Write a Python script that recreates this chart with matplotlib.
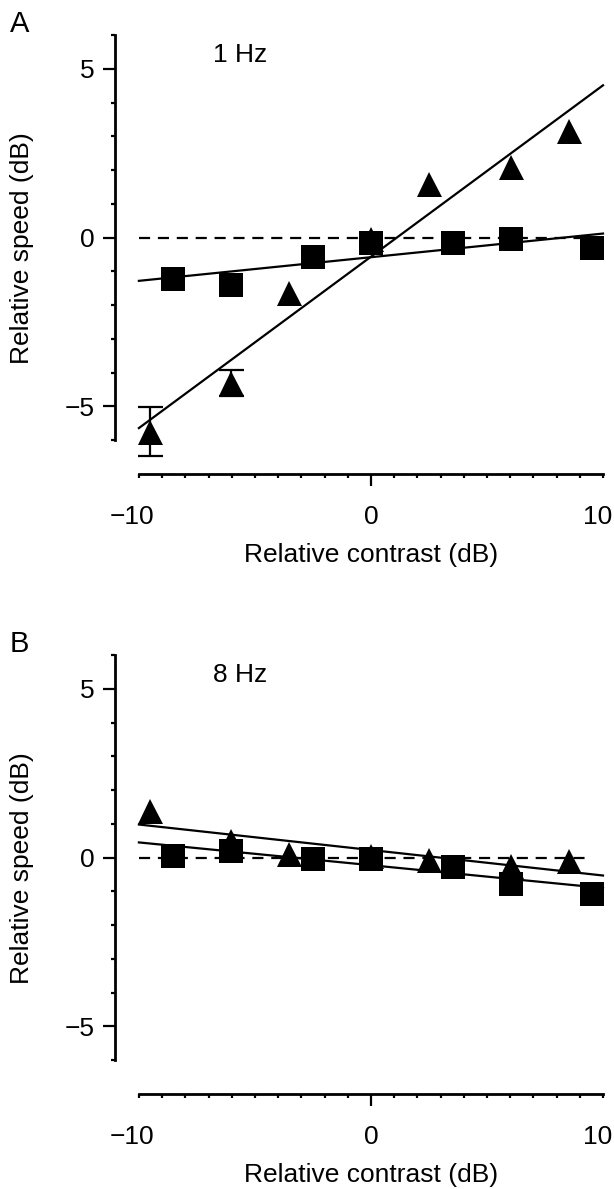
import numpy as np
import matplotlib
matplotlib.use('Agg')
import matplotlib.pyplot as plt
import matplotlib.transforms as mtrans
from matplotlib.ticker import FixedLocator

plt.rcParams['font.family'] = ['Liberation Sans', 'DejaVu Sans']
plt.rcParams['font.size'] = 19

# relative contrast (dB) for each stimulus set
x_tri = [-9.54, -6.02, -3.52, 0.0, 2.50, 6.02, 8.52]
x_sq = [-8.52, -6.02, -2.50, 0.0, 3.52, 6.02, 9.54]

# panel A, 1 Hz
a_tri = [-5.75, -4.30, -1.63, -0.05, 1.60, 2.08, 3.17]
a_tri_err = [0.72, 0.38, 0, 0, 0, 0, 0]
a_sq = [-1.22, -1.39, -0.56, -0.15, -0.15, -0.03, -0.30]
a_fit_tri = [-5.64, 4.51]   # fit line values at x = -10 and 10
a_fit_sq = [-1.28, 0.12]

# panel B, 8 Hz
b_tri = [1.39, 0.50, 0.11, 0.05, -0.06, -0.24, -0.09]
b_sq = [0.06, 0.21, -0.04, -0.05, -0.27, -0.78, -1.07]
b_fit_tri = [0.98, -0.53]
b_fit_sq = [0.45, -0.90]

fit_x = [-10, 10]

W, H = 614, 1189
fig = plt.figure(figsize=(W / 100, H / 100), dpi=100)


def make_panel(top_px, letter, freq, tri, tri_err, sq, fit_tri, fit_sq):
    left_px, right_px, bot_px = 115, 603, top_px + 439
    ax = fig.add_axes([left_px / W, (H - bot_px) / H,
                       (right_px - left_px) / W, (bot_px - top_px) / H])
    ax.set_xlim(-11.03, 10)
    ax.set_ylim(-7, 6)

    ax.plot([-10, 9.5], [0, 0], color='black', lw=1.6, ls=(0, (5, 3.5)))
    ax.plot(fit_x, fit_tri, color='black', lw=1.6, clip_on=False)
    ax.plot(fit_x, fit_sq, color='black', lw=1.6, clip_on=False)

    if tri_err is not None:
        idx = [i for i, e in enumerate(tri_err) if e > 0]
        ax.errorbar([x_tri[i] for i in idx], [tri[i] for i in idx],
                    yerr=[tri_err[i] for i in idx], fmt='none', ecolor='black',
                    elinewidth=1.6, capsize=9, capthick=1.6, zorder=3)
    ax.plot(x_tri, tri, linestyle='none', marker='^', ms=18, color='black',
            markeredgewidth=0, clip_on=False, zorder=4)
    ax.plot(x_sq, sq, linestyle='none', marker='s', ms=17, color='black',
            markeredgewidth=0, clip_on=False, zorder=5)

    for s in ['top', 'right']:
        ax.spines[s].set_visible(False)
    ax.spines['left'].set_bounds(-6, 6)
    ax.spines['bottom'].set_bounds(-10, 10)
    ax.spines['left'].set_linewidth(2)
    ax.spines['bottom'].set_linewidth(2)

    ax.set_yticks([-5, 0, 5])
    ax.set_yticklabels(['\u22125', '0', '5'])
    ax.yaxis.set_minor_locator(FixedLocator(range(-6, 7)))
    ax.set_xticks([-10, 0, 10])
    ax.set_xticklabels(['\u221210', '0', '10'])
    ax.xaxis.set_minor_locator(FixedLocator(range(-10, 11)))
    ax.tick_params(axis='y', which='major', length=8.5, width=1.6, pad=6)
    ax.tick_params(axis='y', which='minor', length=3, width=1.6)
    ax.tick_params(axis='x', which='major', length=3, width=1.6, pad=19)
    ax.tick_params(axis='x', which='minor', length=3, width=1.6)
    ax.xaxis.get_major_ticks()[1].tick1line.set_markersize(8.5)

    # end labels sit a little left of their ticks in the original
    shifts = [-7, 0, -5]
    for lab, dx in zip(ax.get_xticklabels(), shifts):
        lab.set_transform(lab.get_transform() +
                          mtrans.ScaledTranslation(dx / 100, 0, fig.dpi_scale_trans))

    ax.set_xlabel('Relative contrast (dB)')
    ax.xaxis.label.set_va('center')
    ax.xaxis.set_label_coords(0.525, -81 / 439)
    ax.set_ylabel('Relative speed (dB)')
    ax.yaxis.label.set_va('center')
    ax.yaxis.set_label_coords(-93 / 488, 0.515)

    ax.text(-6.8, 5.4, freq, ha='left', va='center')
    fig.text(10 / W, 1 - (top_px - 11) / H, letter, ha='left', va='center',
             fontsize=21)
    return ax


make_panel(35, 'A', '1 Hz', a_tri, a_tri_err, a_sq, a_fit_tri, a_fit_sq)
make_panel(655, 'B', '8 Hz', b_tri, None, b_sq, b_fit_tri, b_fit_sq)

fig.savefig('out.png', dpi=100)
